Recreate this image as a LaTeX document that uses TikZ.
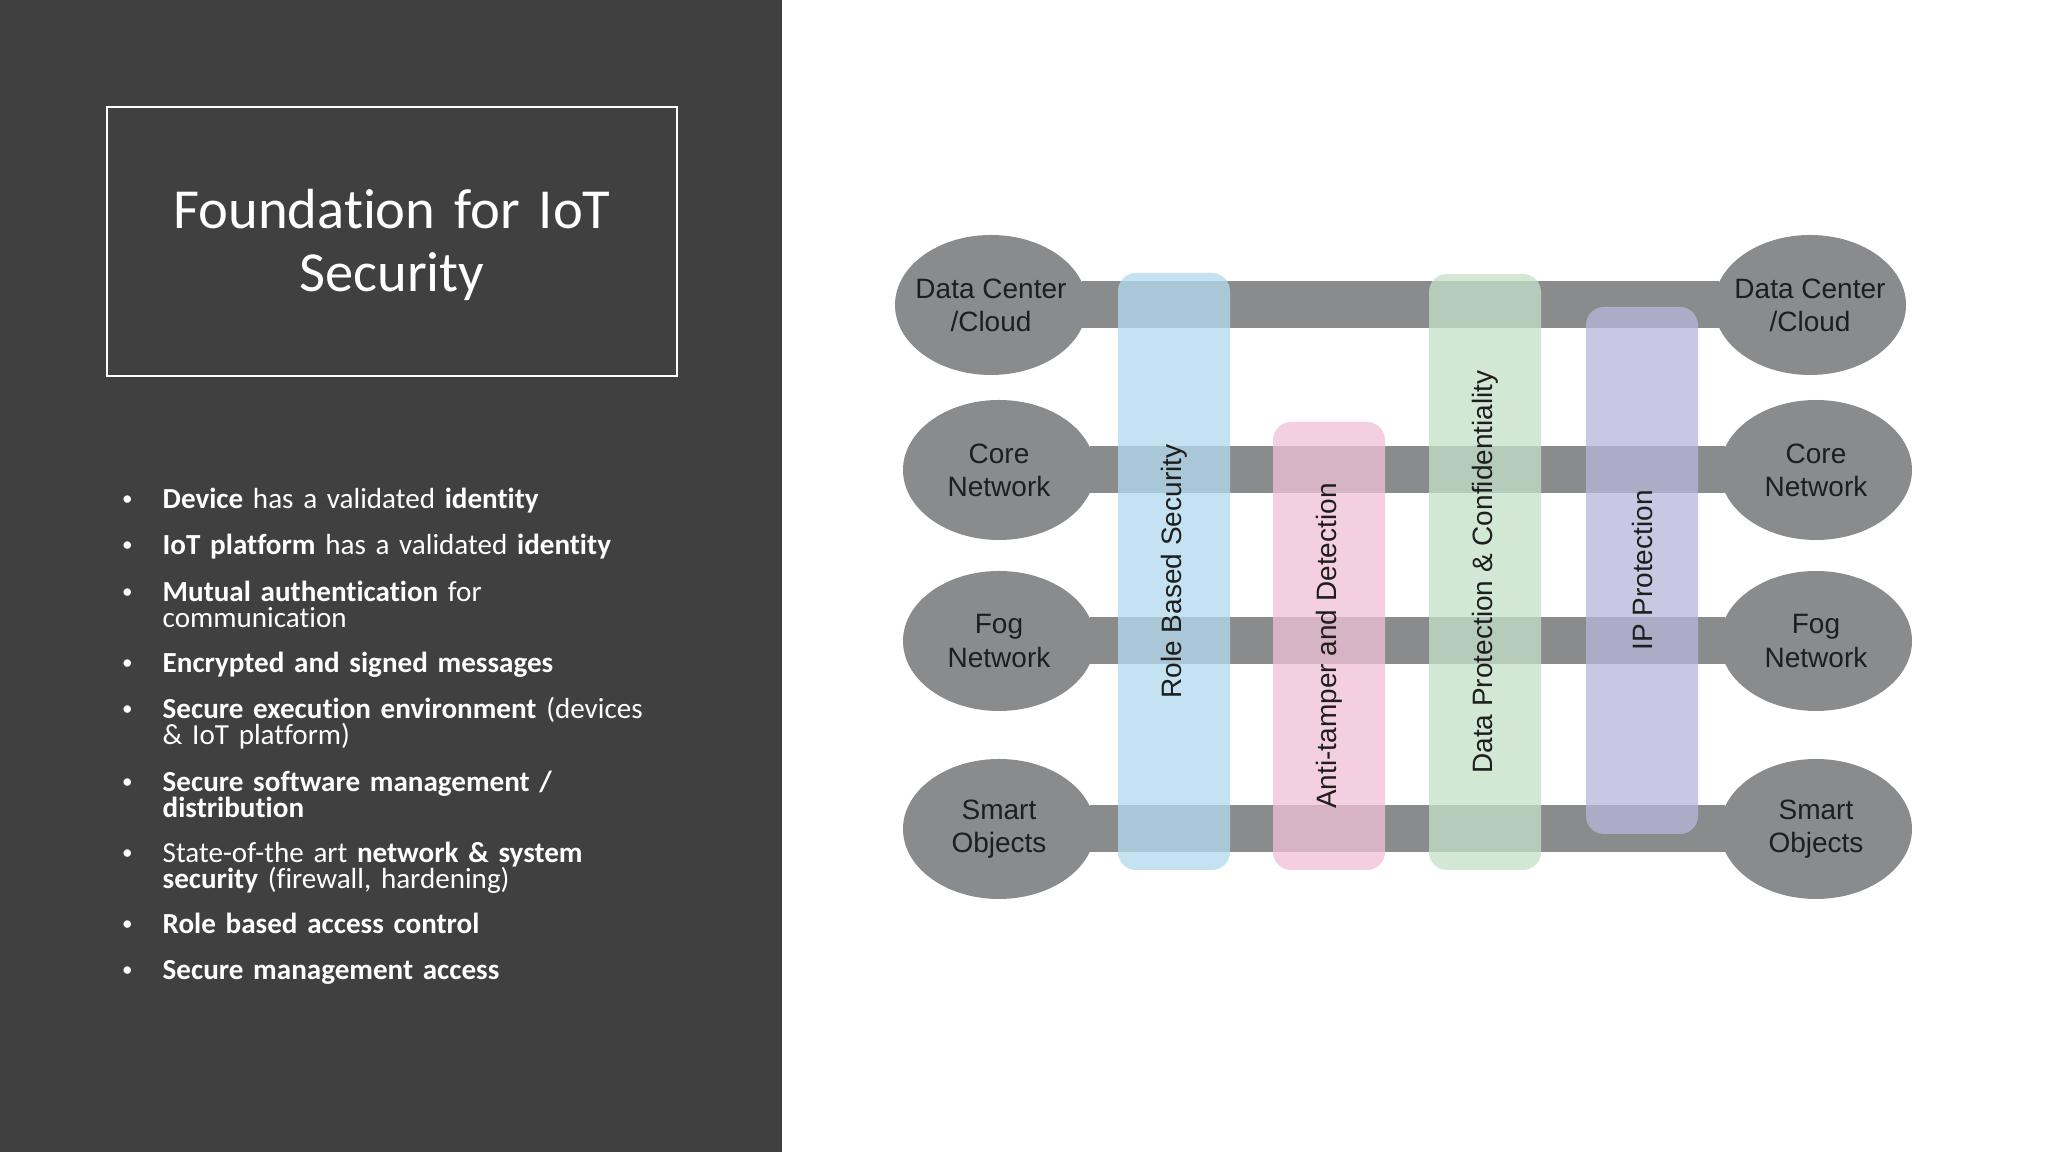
\documentclass[tikz,border=0pt]{standalone}
\usepackage{fontspec}
\setmainfont{Carlito}[Ligatures=NoCommon]
\newfontfamily\arialfont{Liberation Sans}
\usetikzlibrary{shapes.geometric}
\definecolor{panel}{HTML}{404040}
\definecolor{slate}{HTML}{8A8B8D}
\definecolor{ink}{HTML}{1E1E1E}
\definecolor{rbsblue}{HTML}{B3DAEE}
\definecolor{atdpink}{HTML}{F0C0D8}
\definecolor{dpcgreen}{HTML}{C5E1C9}
\definecolor{ippviolet}{HTML}{B7B7D9}
\newcommand{\itemdot}{\llap{\raisebox{0.9pt}{\fontsize{6}{6}\selectfont\textbullet}\hspace{0.3cm}}}
\newcommand{\listfont}{\fontsize{8.28}{7.25}\selectfont\lineskiplimit-10pt\relax}

\begin{document}
\begin{tikzpicture}[x=1cm,y=1cm,
  lab/.style={font=\listfont,color=white,text width=6cm,anchor=base west,inner sep=0pt},
  ring/.style={ellipse,fill=slate,minimum width=1.92cm,minimum height=1.4cm,inner xsep=-0.4cm,inner ysep=0pt,align=center,text=ink,font=\arialfont\fontsize{7.97}{9.4}\selectfont},
  bar/.style={slate,line width=0.47cm,shorten <=-0.06cm,shorten >=-0.06cm},
  band/.style={rounded corners=0.18cm,rotate=90,minimum height=1.12cm,fill opacity=0.76,text opacity=1,text=ink,font=\arialfont\fontsize{7.97}{9}\selectfont,inner sep=0pt}]
  % panels
  \fill[panel] (0,0) rectangle (7.82,11.52);
  \fill[white] (7.82,0) rectangle (20.48,11.52);
  \draw[white,line width=0.7pt] (1.07,10.45) rectangle (6.77,7.76);
  \node[color=white,text width=5.7cm,align=center,anchor=base,inner sep=0pt,font=\fontsize{16.1}{17.92}\selectfont] (title) at (3.92,9.23) {Foundation for IoT\\Security};
  % bullet list
  \node[lab] (b1) at (1.62,6.43) {\itemdot\textbf{Device} has a validated \textbf{identity}};
  \node[lab] (b2) at (1.62,5.97) {\itemdot\textbf{IoT platform} has a validated \textbf{identity}};
  \node[lab] (b3) at (1.62,5.50) {\itemdot\textbf{Mutual authentication} for\\communication};
  \node[lab] (b4) at (1.62,4.79) {\itemdot\textbf{Encrypted and signed messages}};
  \node[lab] (b5) at (1.62,4.33) {\itemdot\textbf{Secure execution environment} (devices\\\& IoT platform)};
  \node[lab] (b6) at (1.62,3.60) {\itemdot\textbf{Secure software management /}\\\textbf{distribution}};
  \node[lab] (b7) at (1.62,2.89) {\itemdot State-of-the art \textbf{network \& system}\\\textbf{security} (firewall, hardening)};
  \node[lab] (b8) at (1.62,2.18) {\itemdot\textbf{Role based access control}};
  \node[lab] (b9) at (1.62,1.72) {\itemdot\textbf{Secure management access}};
  % layers
  \node[ring] (dcL) at (9.91,8.47) {Data Center\\/Cloud};
  \node[ring] (coL) at (9.99,6.82) {Core\\Network};
  \node[ring] (fgL) at (9.99,5.11) {Fog\\Network};
  \node[ring] (smL) at (9.99,3.23) {Smart\\Objects};
  \node[ring] (dcR) at (18.10,8.47) {Data Center\\/Cloud};
  \node[ring] (coR) at (18.16,6.82) {Core\\Network};
  \node[ring] (fgR) at (18.16,5.11) {Fog\\Network};
  \node[ring] (smR) at (18.16,3.23) {Smart\\Objects};
  \draw[bar] (dcL) -- (dcR);
  \draw[bar] (coL) -- (coR);
  \draw[bar] (fgL) -- (fgR);
  \draw[bar] (smL) -- (smR);
  % security bands
  \node[band,fill=rbsblue,minimum width=5.97cm] (rbs) at (11.74,5.805) {Role Based Security};
  \node[band,fill=atdpink,minimum width=4.48cm] (atd) at (13.29,5.06) {Anti-tamper and Detection};
  \node[band,fill=dpcgreen,minimum width=5.96cm] (dpc) at (14.85,5.80) {Data Protection \& Confidentiality};
  \node[band,fill=ippviolet,minimum width=5.27cm] (ipp) at (16.42,5.815) {IP Protection};
\end{tikzpicture}
\end{document}
